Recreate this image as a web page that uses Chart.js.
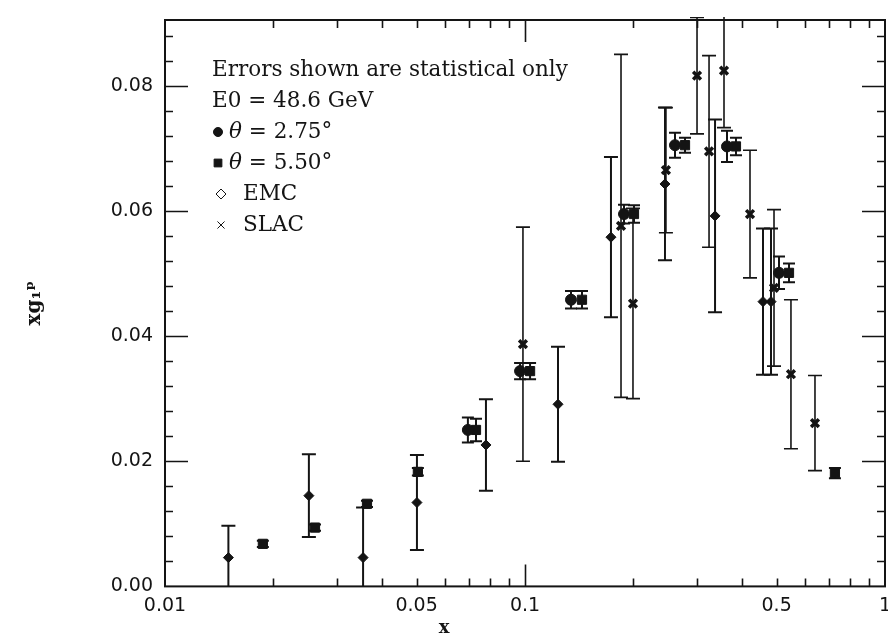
<!DOCTYPE html>
<html>
<head>
<meta charset="utf-8">
<title>x g1 p vs x</title>
<script src="https://cdn.jsdelivr.net/npm/chart.js@4.4.1/dist/chart.umd.min.js"></script>
<style>
  html, body { margin: 0; padding: 0; background: #fff; }
</style>
</head>
<body>
<canvas id="myChart" width="888" height="639"></canvas>
<script>
// theta = 2.75 deg (circles)
const circX = [0.0694, 0.0969, 0.1342, 0.1884, 0.2610, 0.3640, 0.5077];
const circY = [0.0250, 0.0344, 0.0458, 0.0595, 0.0705, 0.0703, 0.0501];
const circErr = [0.0020, 0.0013, 0.0014, 0.0015, 0.0020, 0.0025, 0.0026];

// theta = 5.50 deg (squares)
const sqX = [0.0187, 0.0261, 0.0364, 0.0504, 0.0731, 0.1033, 0.1440, 0.2008, 0.2783, 0.3855, 0.5412, 0.7260];
const sqY = [0.0068, 0.0094, 0.0132, 0.0183, 0.0250, 0.0344, 0.0458, 0.0595, 0.0705, 0.0703, 0.0501, 0.0181];
const sqErr = [0.0005, 0.0005, 0.0005, 0.0006, 0.0018, 0.0013, 0.0014, 0.0014, 0.0012, 0.0014, 0.0015, 0.0008];

// EMC (diamonds)
const emcX = [0.0150, 0.0251, 0.0355, 0.0501, 0.0779, 0.1235, 0.1733, 0.2448, 0.3372, 0.4583, 0.4824];
const emcY = [0.0046, 0.0145, 0.0046, 0.0134, 0.0226, 0.0291, 0.0558, 0.0643, 0.0592, 0.0455, 0.0455];
const emcErr = [0.0051, 0.0066, 0.0080, 0.0076, 0.0073, 0.0092, 0.0128, 0.0122, 0.0154, 0.0117, 0.0117];

// SLAC (stars)
const slacX = [0.0987, 0.1848, 0.1995, 0.2463, 0.3005, 0.3245, 0.3571, 0.4217, 0.4917, 0.5480, 0.6390];
const slacY = [0.0387, 0.0576, 0.0452, 0.0665, 0.0816, 0.0695, 0.0824, 0.0595, 0.0477, 0.0339, 0.0261];
const slacErr = [0.0187, 0.0274, 0.0152, 0.0100, 0.0093, 0.0153, 0.0091, 0.0102, 0.0125, 0.0119, 0.0076];

// axes
const xTickValues = [0.01, 0.05, 0.1, 0.5, 1];
const xTickLabels = ['0.01', '0.05', '0.1', '0.5', '1'];
const xMinorTicks = [0.02, 0.03, 0.04, 0.05, 0.06, 0.07, 0.08, 0.09, 0.2, 0.3, 0.4, 0.5, 0.6, 0.7, 0.8, 0.9];
const xMajorTicks = [0.1];
const yTickValues = [0, 0.02, 0.04, 0.06, 0.08];
const yMinorStep = 0.004;

const noteLines = ['Errors shown are statistical only', 'E0 = 48.6 GeV'];
const seriesNames = ['θ = 2.75°', 'θ = 5.50°', 'EMC', 'SLAC'];

const ink = '#141414';
const plotRight = 885;
const plotTop = 20;

function toPoints(xs, ys) {
    return xs.map((x, i) => ({x: x, y: ys[i]}));
}

// pin the plot box to the page edges (tick labels would otherwise pull it in)
const pinPlot = {
    id: 'pinPlot',
    afterLayout(chart) {
        const {x, y} = chart.scales;
        const area = chart.chartArea;
        x.right = plotRight;
        x.width = x.right - x.left;
        x.configure();
        y.top = plotTop;
        y.height = y.bottom - y.top;
        y.configure();
        area.right = plotRight;
        area.width = plotRight - area.left;
        area.top = plotTop;
        area.height = area.bottom - plotTop;
    }
};

// vertical error bars with caps, drawn under the markers
const errorBars = {
    id: 'errorBars',
    beforeDatasetsDraw(chart) {
        const {ctx, chartArea, scales: {x, y}} = chart;
        ctx.save();
        ctx.beginPath();
        ctx.rect(chartArea.left, chartArea.top - 3, chartArea.right - chartArea.left, chartArea.bottom - chartArea.top + 3);
        ctx.clip();
        ctx.strokeStyle = ink;
        chart.data.datasets.forEach(ds => {
            ctx.lineWidth = ds.barWidth;
            ds.data.forEach((p, i) => {
                const e = ds.errors[i];
                const px = x.getPixelForValue(p.x);
                const top = y.getPixelForValue(p.y + e);
                const bot = y.getPixelForValue(p.y - e);
                ctx.beginPath();
                ctx.moveTo(px, top);
                ctx.lineTo(px, bot);
                ctx.moveTo(px - ds.capHalf, top);
                ctx.lineTo(px + ds.capHalf, top);
                ctx.moveTo(px - ds.capHalf, bot);
                ctx.lineTo(px + ds.capHalf, bot);
                ctx.stroke();
            });
        });
        ctx.restore();
    }
};

// box round the plot with inward ticks on all four sides
const frameTicks = {
    id: 'frameTicks',
    afterDatasetsDraw(chart) {
        const {ctx, chartArea: a, scales: {x, y}} = chart;
        ctx.save();
        ctx.strokeStyle = ink;
        ctx.lineWidth = 2;
        ctx.strokeRect(a.left, a.top, a.right - a.left, a.bottom - a.top);

        ctx.lineWidth = 1.6;
        ctx.beginPath();
        for (let v = yMinorStep; v < y.max; v += yMinorStep) {
            const py = Math.round(y.getPixelForValue(v)) + 0.5;
            const major = Math.abs(v / 0.02 - Math.round(v / 0.02)) < 1e-6;
            const len = major ? 23 : 8;
            ctx.moveTo(a.left, py); ctx.lineTo(a.left + len, py);
            ctx.moveTo(a.right, py); ctx.lineTo(a.right - len, py);
        }
        xMinorTicks.concat(xMajorTicks).forEach(v => {
            const px = Math.round(x.getPixelForValue(v)) + 0.5;
            const len = xMajorTicks.includes(v) ? 22 : 8;
            ctx.moveTo(px, a.bottom); ctx.lineTo(px, a.bottom - len);
            ctx.moveTo(px, a.top); ctx.lineTo(px, a.top + len);
        });
        ctx.stroke();
        ctx.restore();
    }
};

function marker(ctx, style, r, x, y, fill, bw) {
    ctx.fillStyle = fill;
    Chart.helpers.drawPoint(ctx, {pointStyle: style, radius: r, rotation: 0, borderWidth: bw}, x, y);
}

// the text block inside the plot
const noteBox = {
    id: 'noteBox',
    afterDraw(chart) {
        const ctx = chart.ctx;
        ctx.save();
        ctx.fillStyle = ink;
        ctx.strokeStyle = ink;
        ctx.textBaseline = 'middle';
        ctx.font = '21.5px "DejaVu Serif"';
        ctx.fillText(noteLines[0], 212, 70);
        ctx.fillText(noteLines[1], 212, 101);

        const rows = [132, 163, 194, 225];
        marker(ctx, 'circle', 4.5, 218, rows[0], ink, 1);
        marker(ctx, 'rect', 5.5, 218, rows[1], ink, 1);
        marker(ctx, 'rectRot', 5, 221, rows[2], '#fff', 1.8);
        marker(ctx, 'crossRot', 5, 221, rows[3], ink, 3);

        const textX = [229, 229, 243, 243];
        seriesNames.forEach((name, i) => {
            ctx.fillStyle = ink;
            let tx = textX[i];
            let rest = name;
            if (name.startsWith('θ')) {
                ctx.font = 'italic 21.5px "DejaVu Serif"';
                ctx.fillText('θ', tx, rows[i]);
                tx += ctx.measureText('θ').width;
                rest = name.slice(1);
            }
            ctx.font = '21.5px "DejaVu Serif"';
            ctx.fillText(rest, tx, rows[i]);
        });
        ctx.restore();
    }
};

const data = {
    datasets: [
        {
            label: seriesNames[0],
            data: toPoints(circX, circY),
            errors: circErr,
            barWidth: 2,
            capHalf: 6,
            pointStyle: 'circle',
            pointRadius: 5.5,
            backgroundColor: ink,
            borderColor: ink
        },
        {
            label: seriesNames[1],
            data: toPoints(sqX, sqY),
            errors: sqErr,
            barWidth: 2,
            capHalf: 6,
            pointStyle: 'rect',
            pointRadius: 6.5,
            backgroundColor: ink,
            borderColor: ink
        },
        {
            label: seriesNames[2],
            data: toPoints(emcX, emcY),
            errors: emcErr,
            barWidth: 2,
            capHalf: 7,
            pointStyle: 'rectRot',
            pointRadius: 5,
            backgroundColor: ink,
            borderColor: ink
        },
        {
            label: seriesNames[3],
            data: toPoints(slacX, slacY),
            errors: slacErr,
            barWidth: 1.6,
            capHalf: 7,
            pointStyle: 'crossRot',
            pointRadius: 5.5,
            pointBorderWidth: 3.5,
            backgroundColor: ink,
            borderColor: ink
        }
    ]
};

const config = {
    type: 'scatter',
    data,
    options: {
        responsive: false,
        animation: false,
        devicePixelRatio: 1,
        layout: {padding: {top: 20, right: 0, left: 0, bottom: 0}},
        plugins: {
            legend: {display: false},
            tooltip: {enabled: false},
            title: {
                display: true,
                position: 'bottom',
                text: 'x',
                color: ink,
                font: {family: 'DejaVu Serif', size: 18, weight: 'bold'},
                padding: {top: 0, bottom: 0}
            }
        },
        scales: {
            x: {
                type: 'logarithmic',
                min: 0.01,
                max: 1,
                grid: {display: false, drawTicks: false},
                border: {display: false},
                afterBuildTicks: scale => {
                    scale.ticks = xTickValues.map(v => ({value: v}));
                },
                afterFit: scale => {
                    scale.height = 31;
                },
                ticks: {
                    autoSkip: false,
                    maxRotation: 0,
                    padding: 8,
                    color: ink,
                    font: {family: 'DejaVu Sans', size: 19},
                    callback: (v, i) => xTickLabels[i]
                }
            },
            y: {
                type: 'linear',
                min: 0,
                max: 0.0905,
                grid: {display: false, drawTicks: false},
                border: {display: false},
                afterBuildTicks: scale => {
                    scale.ticks = yTickValues.map(v => ({value: v}));
                },
                afterFit: scale => {
                    scale.width = 165;
                },
                title: {
                    display: true,
                    text: 'xg₁ᵖ',
                    color: ink,
                    font: {family: 'DejaVu Serif', size: 20, weight: 'bold'},
                    padding: {top: 23, bottom: 0}
                },
                ticks: {
                    padding: 12,
                    color: ink,
                    font: {family: 'DejaVu Sans', size: 19},
                    callback: v => v.toFixed(2)
                }
            }
        }
    },
    plugins: [pinPlot, errorBars, frameTicks, noteBox]
};

const myChart = new Chart(document.getElementById('myChart'), config);
</script>
</body>
</html>
